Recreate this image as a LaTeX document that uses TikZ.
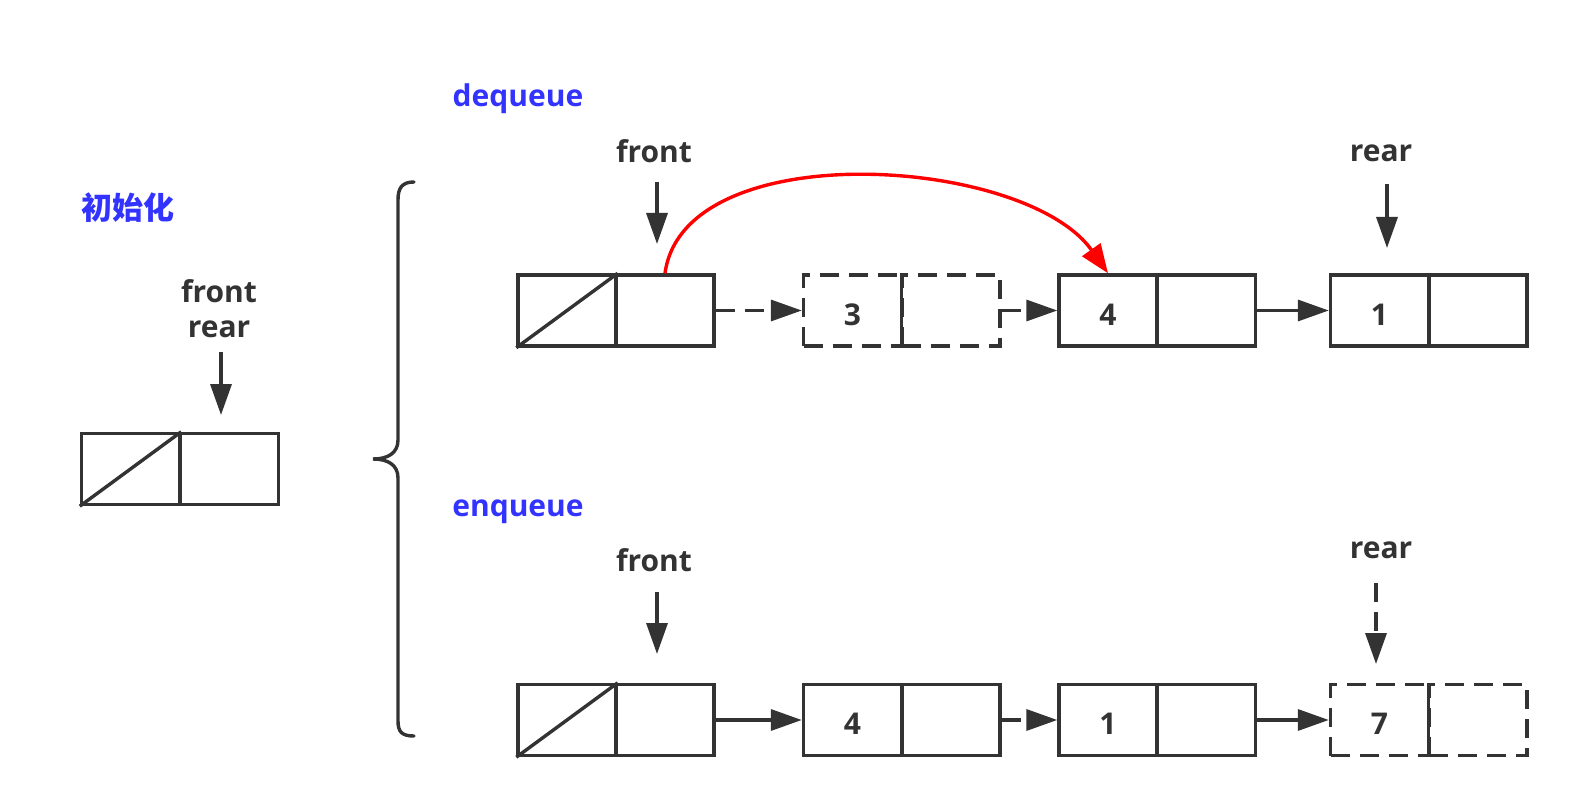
\documentclass[tikz,border=0pt]{standalone}
\usepackage{fontspec}
\setmainfont{Open Sans}
\newfontfamily\cjk{Noto Sans CJK SC}
\usetikzlibrary{arrows.meta}
\definecolor{dk}{HTML}{333333}
\definecolor{bl}{HTML}{3333FF}
\definecolor{rd}{HTML}{FF0000}
\begin{document}
\begin{tikzpicture}[x=1pt,y=-1pt,
  cell/.style={draw=dk, line width=3.4pt, minimum width=98pt, minimum height=71pt, inner sep=0pt, text=dk, text height=29pt, text depth=0pt, font=\fontsize{30}{36}\selectfont\bfseries},
  dcell/.style={cell, dash pattern=on 19pt off 10pt},
  lbl/.style={text=dk, font=\fontsize{30}{36}\selectfont\bfseries, inner sep=0pt},
  ttl/.style={text=bl, font=\fontsize{30}{36}\selectfont\bfseries, inner sep=0pt},
  arr/.style={draw=dk, line width=3.4pt, -{Triangle[length=31pt,width=21pt]}},
  darr/.style={arr, dash pattern=on 19pt off 10pt},
  rarr/.style={draw=rd, line width=3.4pt, -{Triangle[length=29pt,width=22pt]}}
]
\useasboundingbox (0,0) rectangle (1577,805);

% init
\node[ttl] (tinit) at (128,208) {\cjk\fontsize{31}{36}\selectfont\bfseries 初始化};
\node[lbl] (lfr0) at (219,291) {front};
\node[lbl] (lre0) at (219,329) {rear};
\node[cell] (i1) at (130.5,469) {};
\node[cell] (i2) at (229.5,469) {};
\draw[dk, line width=3.4pt] (i1.south west) -- (i1.north east);
\coordinate (ia) at (221,352);
\coordinate (ib) at (221,415);
\draw[arr] (ia) -- (ib);

% brace
\draw[dk, line width=3.4pt, line cap=round] (414,182) .. controls (402,182) and (398,188) .. (398,200) -- (398,440) .. controls (398,453) and (388,459) .. (373,459) .. controls (388,459) and (398,465) .. (398,478) -- (398,721) .. controls (398,732) and (402,736) .. (414,736);

% dequeue
\node[ttl] (tdq) at (518,99) {dequeue};
\node[lbl] (lfr1) at (654,151) {front};
\node[lbl] (lre1) at (1381,153) {rear};
\node[cell] (p1) at (567,310.5) {};
\node[cell] (p2) at (665,310.5) {};
\draw[dk, line width=3.4pt] (p1.south west) -- (p1.north east);
\node[dcell] (q1) at (852.5,310.5) {3};
\node[dcell] (q2) at (951,310.5) {};
\node[cell] (r1) at (1108,310.5) {4};
\node[cell] (r2) at (1206.5,310.5) {};
\node[cell] (s1) at (1379.5,310.5) {1};
\node[cell] (s2) at (1478,310.5) {};
\draw[darr] (p2.east) -- (q1.west);
\draw[darr] (q2.east) -- (r1.west);
\draw[arr] (r2.east) -- (s1.west);
\coordinate (fa1) at (657,182);
\coordinate (fb1) at (657,244);
\draw[arr] (fa1) -- (fb1);
\coordinate (ra1) at (1387,184);
\coordinate (rb1) at (1387,248);
\draw[arr] (ra1) -- (rb1);
\draw[rarr] (p2.north) .. controls (684,134) and (1025,156) .. (r1.north);

% enqueue
\node[ttl] (teq) at (518,512) {enqueue};
\node[lbl] (lfr2) at (654,560) {front};
\node[lbl] (lre2) at (1381,550) {rear};
\node[cell] (u1) at (567,720) {};
\node[cell] (u2) at (665,720) {};
\draw[dk, line width=3.4pt] (u1.south west) -- (u1.north east);
\node[cell] (v1) at (852.5,720) {4};
\node[cell] (v2) at (951,720) {};
\node[cell] (w1) at (1108,720) {1};
\node[cell] (w2) at (1206.5,720) {};
\node[dcell] (z1) at (1379.5,720) {7};
\node[dcell] (z2) at (1478,720) {};
\draw[arr] (u2.east) -- (v1.west);
\draw[darr] (v2.east) -- (w1.west);
\draw[arr] (w2.east) -- (z1.west);
\coordinate (fa2) at (657,592);
\coordinate (fb2) at (657,654);
\draw[arr] (fa2) -- (fb2);
\coordinate (ra2) at (1376,583);
\coordinate (rb2) at (1376,664);
\draw[darr] (ra2) -- (rb2);
\end{tikzpicture}
\end{document}
